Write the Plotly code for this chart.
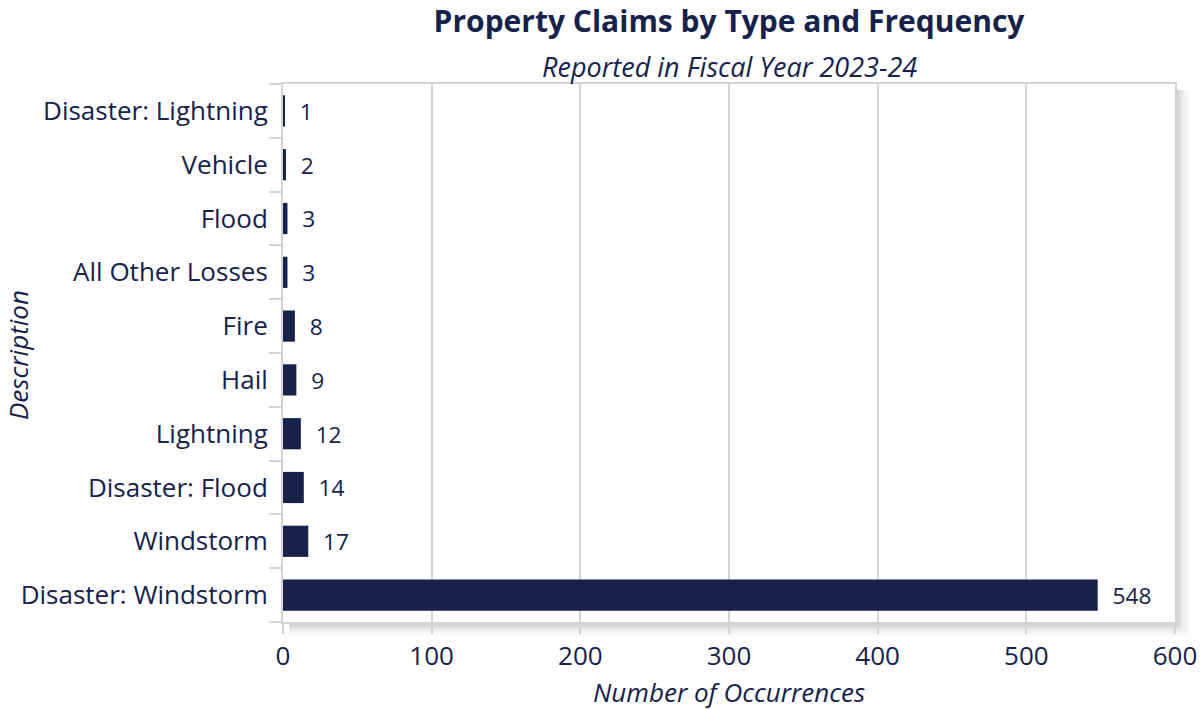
import plotly.graph_objects as go

categories = ["Disaster: Windstorm", "Windstorm", "Disaster: Flood", "Lightning", "Hail",
              "Fire", "All Other Losses", "Flood", "Vehicle", "Disaster: Lightning"]
counts = [548, 17, 14, 12, 9, 8, 3, 3, 2, 1]
x_ticks = [0, 100, 200, 300, 400, 500, 600]

navy = "#16224a"
grey = "#d4d4d4"
font_family = "'Open Sans', Lato, sans-serif"

W, H = 1203, 709
L, R, T, B = 283, 28, 84, 87
pw = W - L - R
ph = H - T - B

fig = go.Figure(go.Bar(
    y=categories, x=counts, orientation="h",
    marker=dict(color=navy, line=dict(width=0)),
    texttemplate="\u00a0\u00a0%{x}", textposition="outside",
    textfont=dict(size=24, color=navy, family=font_family),
    cliponaxis=False,
))

# soft drop shadow along bottom and right of the plot area
shapes = []
for i, op in enumerate([0.05, 0.045, 0.04, 0.03, 0.02, 0.015, 0.01, 0.006]):
    d = (i + 1) * 2
    shapes.append(dict(type="rect", xref="paper", yref="paper", layer="below",
                       x0=6 / pw, x1=1 + d / pw,
                       y0=-d / ph, y1=0, line=dict(width=0),
                       fillcolor=f"rgba(0,0,0,{op})"))
    shapes.append(dict(type="rect", xref="paper", yref="paper", layer="below",
                       x0=1, x1=1 + d / pw,
                       y0=0, y1=1 - 6 / ph, line=dict(width=0),
                       fillcolor=f"rgba(0,0,0,{op})"))

fig.update_layout(
    width=W, height=H,
    margin=dict(l=L, r=R, t=T, b=B, autoexpand=False),
    paper_bgcolor="white", plot_bgcolor="white",
    bargap=0.42,
    showlegend=False,
    font=dict(family=font_family, color=navy),
    shapes=shapes,
    title=dict(text="<b>Property Claims by Type and Frequency</b>",
               x=729 / W, xref="container", xanchor="center", y=(H - 21) / H, yref="container",
               yanchor="middle",
               font=dict(size=30, color=navy, family=font_family)),
    annotations=[
        dict(text="<i>Reported in Fiscal Year 2023-24</i>", xref="paper", yref="paper",
             x=0.5, y=1.0, yshift=18, xanchor="center", yanchor="middle", showarrow=False,
             font=dict(size=27, color=navy, family=font_family)),
        dict(text="<i>Number of Occurrences</i>", xref="paper", yref="paper",
             x=0.5, y=0, yshift=-70, xanchor="center", yanchor="middle", showarrow=False,
             font=dict(size=26, color=navy, family=font_family)),
        dict(text="<i>Description</i>", xref="paper", yref="paper", textangle=-90,
             x=0, xshift=-(L - 18), y=(622 - 355) / ph, xanchor="center", yanchor="middle",
             showarrow=False,
             font=dict(size=26, color=navy, family=font_family)),
    ],
)

fig.update_xaxes(
    range=[0, 600], tickvals=x_ticks, ticktext=[str(t) for t in x_ticks],
    showgrid=True, gridcolor=grey, gridwidth=2,
    showline=True, linecolor=grey, linewidth=2, mirror=True,
    ticks="outside", ticklen=10, tickwidth=2, tickcolor=grey,
    tickfont=dict(size=26, color=navy),
    zeroline=False, automargin=False,
)
fig.update_yaxes(
    categoryorder="array", categoryarray=categories,
    showline=True, linecolor=grey, linewidth=2, mirror=True,
    ticks="outside", tickson="boundaries", ticklen=12, tickwidth=2, tickcolor=grey,
    ticklabelstandoff=8,
    tickfont=dict(size=26, color=navy),
    showgrid=False, automargin=False,
)

fig.write_html("out.html", config={"displayModeBar": False},
               post_script="document.body.style.margin='0';document.body.style.padding='0';")
